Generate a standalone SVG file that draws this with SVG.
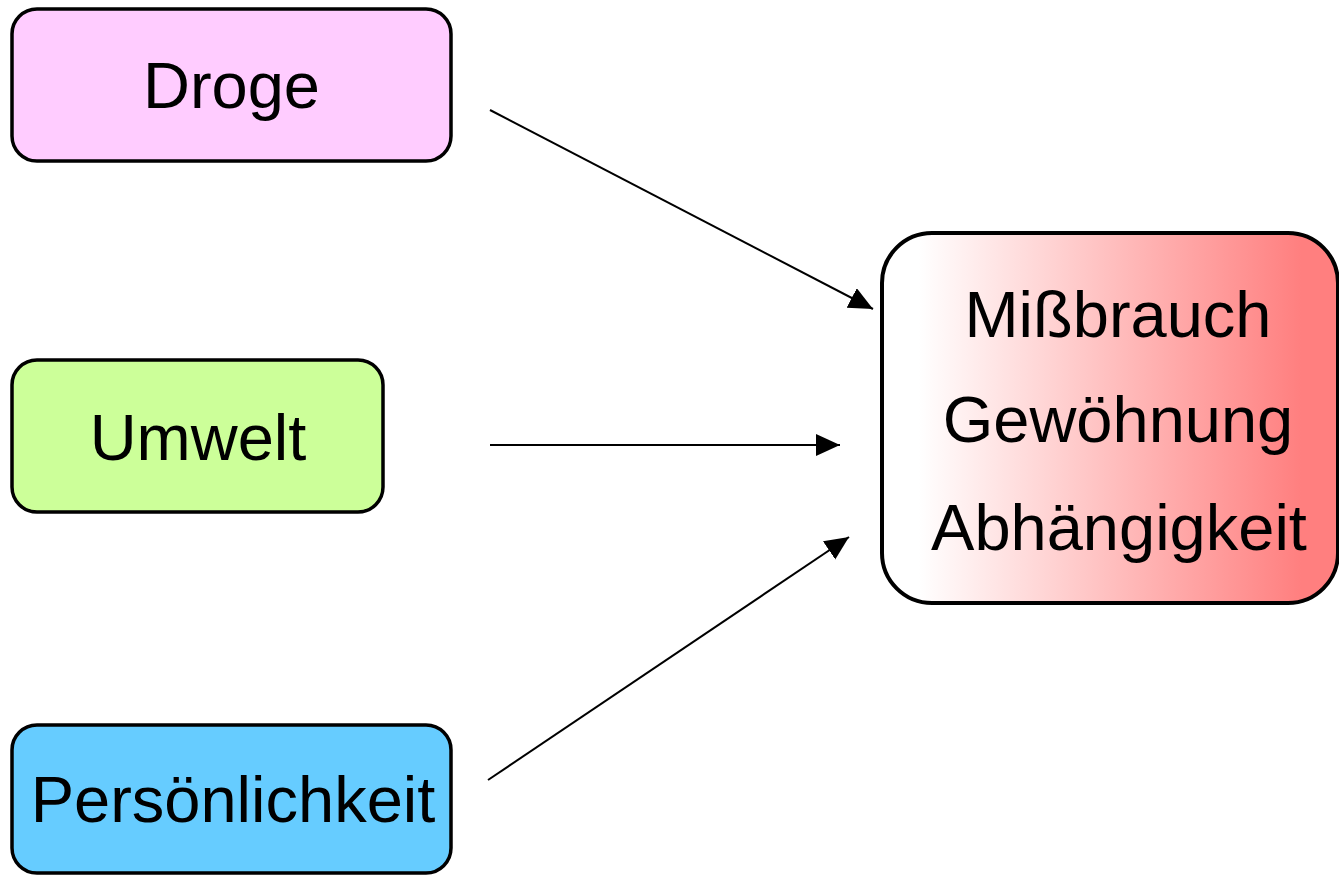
<svg xmlns="http://www.w3.org/2000/svg" width="1339" height="876" viewBox="0 0 1339 876">
  <style>
    .box { stroke: #000; stroke-width: 3.5; }
    .label { font-family: "Liberation Sans", Arial, sans-serif; font-size: 65px; fill: #000; text-anchor: middle; }
    .conn { stroke: #000; stroke-width: 2; fill: none; marker-end: url(#arrow); }
  </style>
  <defs>
    <linearGradient id="redFade" x1="0" y1="0" x2="1" y2="0">
      <stop offset="0.08" stop-color="#ffffff"/>
      <stop offset="0.92" stop-color="#ff7f7f"/>
    </linearGradient>
    <marker id="arrow" markerUnits="userSpaceOnUse" markerWidth="26" markerHeight="24" refX="24" refY="11" orient="auto">
      <path d="M0,0 L24,11 L0,22 Z" fill="#000"/>
    </marker>
  </defs>

  <g id="connectors">
    <line class="conn" x1="490" y1="110" x2="873" y2="309"/>
    <line class="conn" x1="490" y1="445" x2="840" y2="445"/>
    <line class="conn" x1="488" y1="780" x2="849" y2="537"/>
  </g>

  <g id="droge">
    <rect class="box" x="12" y="9" width="439" height="152" rx="25" fill="#ffccff"/>
    <text class="label" x="231.5" y="108">Droge</text>
  </g>

  <g id="umwelt">
    <rect class="box" x="12" y="360" width="371" height="152" rx="25" fill="#ccff99"/>
    <text class="label" x="198" y="460">Umwelt</text>
  </g>

  <g id="persoenlichkeit">
    <rect class="box" x="12" y="725" width="439" height="148" rx="25" fill="#66ccff"/>
    <text class="label" x="233" y="822">Persönlichkeit</text>
  </g>

  <g id="folgen">
    <rect class="box" x="882" y="233" width="456" height="370" rx="50" fill="url(#redFade)" style="stroke-width:4"/>
    <text class="label" x="1118" y="337">Mißbrauch</text>
    <text class="label" x="1118" y="442">Gewöhnung</text>
    <text class="label" x="1119" y="550">Abhängigkeit</text>
  </g>
</svg>
